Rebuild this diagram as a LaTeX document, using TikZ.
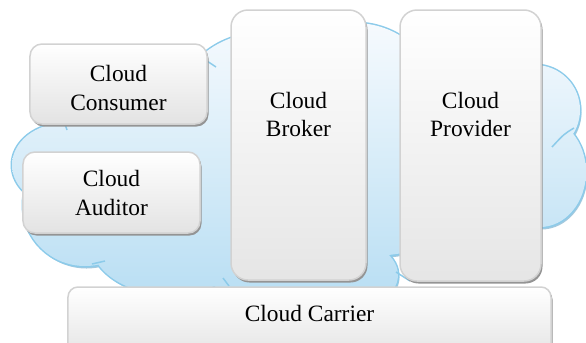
\documentclass[tikz,border=0pt]{standalone}
\usepackage{fontspec}
\setmainfont{Liberation Serif}
\usetikzlibrary{shadows}
\definecolor{cloudline}{HTML}{8CCBEA}
\definecolor{cloudtop}{HTML}{F8FBFE}
\definecolor{cloudmid}{HTML}{DCEDF8}
\definecolor{cloudbottom}{HTML}{B8DEF3}
\definecolor{cloudshadow}{HTML}{A3C9DE}
\definecolor{boxline}{HTML}{D2D2D2}
\newcommand\cloudfont{\fontsize{23.5}{28.3}\selectfont}
% bumps of the cloud: x/y/x radius/y radius
\newcommand\cloudbumps{65/165/53/42, 150/125/80/68, 261/123/90/90, 355/110/87/87,
  535/110/45/45, 540/172/46/55, 85/205/62/61, 170/240/80/55, 250/265/50/30,
  330/275/68/40, 305/180/240/80}

\begin{document}
\begin{tikzpicture}[x=1bp, y=-1bp,
    box/.style={draw=boxline, line width=1.5bp, rounded corners=12bp,
      top color=white, bottom color=black!11, inner sep=0pt,
      drop shadow={shadow xshift=1.5bp, shadow yshift=-2.5bp, fill=black!42, opacity=1}},
    tallbox/.style={box, rounded corners=17bp, bottom color=black!10},
    lbl/.style={font=\cloudfont, align=center, inner sep=0pt}]
        \useasboundingbox (0,0) rectangle (586,342);

        % Cloud
        \fill[cloudshadow, shift={(1.5,2.5)}] foreach \cx/\cy/\rx/\ry in \cloudbumps
          {(\cx,\cy) ellipse [x radius=\rx, y radius=\ry]};
        \draw[cloudline, line width=3] foreach \cx/\cy/\rx/\ry in \cloudbumps
          {(\cx,\cy) ellipse [x radius=\rx, y radius=\ry]};
        \begin{scope}
          \clip foreach \cx/\cy/\rx/\ry in \cloudbumps
            {(\cx,\cy) ellipse [x radius=\rx, y radius=\ry]};
          \shade[top color=cloudtop, middle color=cloudmid, bottom color=cloudbottom]
            (0,15) rectangle (586,300);
        \end{scope}
        \draw[cloudline, line width=1.5] (207,61) -- (216,67);
        \draw[cloudline, line width=1.5] (65,124) -- (67,130);
        \draw[cloudline, line width=1.5] (92,264) -- (105,261);
        \draw[cloudline, line width=1.5] (574,128) .. controls (564,134) .. (552,147);
        \draw[cloudline, line width=1.5] (396,272) -- (410,281);
        \draw[cloudline, line width=1.5] (223,278) -- (229,286);

        % Consumer
        \node[box, minimum width=177bp, minimum height=80bp] (consumer) at (118.5,84) {};
        \node[lbl] (consumertext) at (118.5,88) {Cloud\\Consumer};

        % Auditor
        \node[box, minimum width=177bp, minimum height=81bp] (auditor) at (111.5,192.5) {};
        \node[lbl] (auditortext) at (111.5,193) {Cloud\\Auditor};

        % Broker
        \node[tallbox, minimum width=135bp, minimum height=270bp] (broker) at (298.5,145) {};
        \node[lbl] (brokertext) at (298.5,114.5) {Cloud\\Broker};

        % Provider
        \node[tallbox, minimum width=141bp, minimum height=271bp] (provider) at (470.5,145.5) {};
        \node[lbl] (providertext) at (470.5,114.5) {Cloud\\Provider};

        % Carrier
        \node[box, rounded corners=10bp, minimum width=483bp, minimum height=73bp] (carrier) at (309.5,323.5) {};
        \node[lbl] (carriertext) at (309.5,313.7) {Cloud Carrier};
    \end{tikzpicture}
\end{document}
